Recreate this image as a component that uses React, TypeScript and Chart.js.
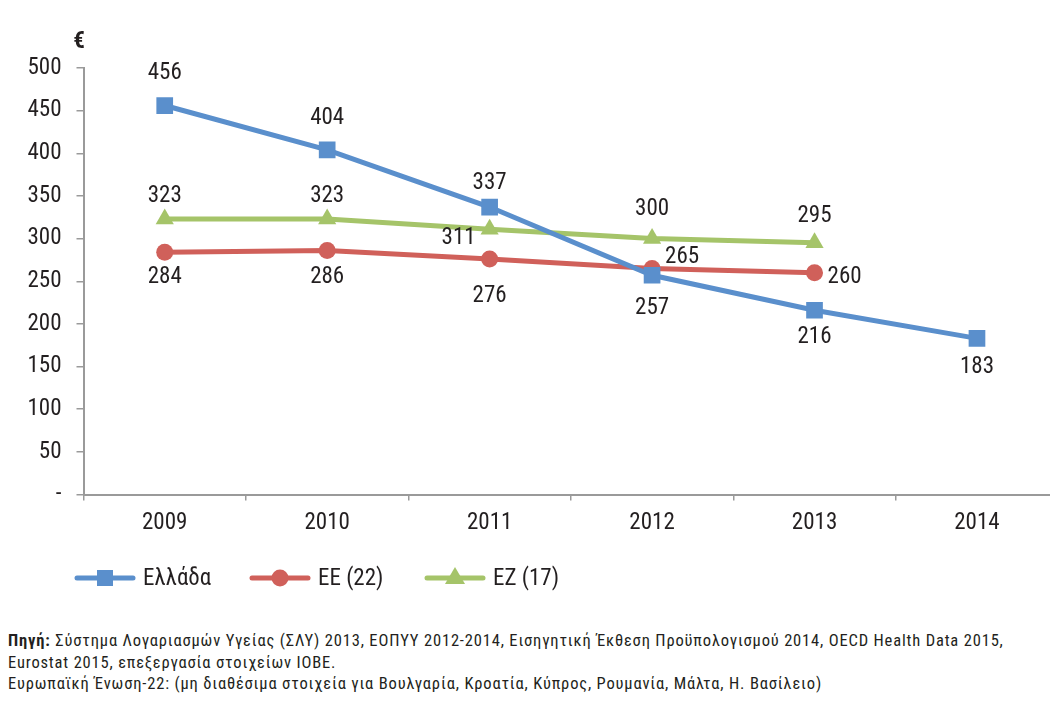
import React, { useEffect, useRef } from "react";
import { Chart, registerables } from "chart.js";

Chart.register(...registerables);

const years = ["2009", "2010", "2011", "2012", "2013", "2014"];
const greece = [456, 404, 337, 257, 216, 183];
const eu22 = [284, 286, 276, 265, 260, null];
const ez17 = [323, 323, 311, 300, 295, null];
const seriesNames = ["Ελλάδα", "ΕΕ (22)", "ΕΖ (17)"];

// label placement per point (style only): [dx, dy, align]
const greeceLbl: [number, number, string][] = [
  [0, -32, "center"], [0, -32, "center"], [0, -24, "center"],
  [0, 33, "center"], [0, 27, "center"], [0, 29, "center"],
];
const euLbl: [number, number, string][] = [
  [0, 25, "center"], [0, 27, "center"], [0, 37, "center"],
  [13, -11, "left"], [13, 5, "left"], [0, 0, "none"],
];
const ezLbl: [number, number, string][] = [
  [0, -23, "center"], [0, -23, "center"], [-14, 9, "right"],
  [0, -29, "center"], [0, -27, "center"], [0, 0, "none"],
];

const COLORS = ["#5A8FCC", "#D0605A", "#A5C469"];
const FONT = "'Liberation Sans Narrow', 'Roboto Condensed', 'DejaVu Sans Condensed', Roboto, sans-serif";
const TEXT = "#231F20";

const labelPlugin = {
  id: "pointLabels",
  afterDatasetsDraw(chart: any) {
    const ctx = chart.ctx;
    const placements = [greeceLbl, euLbl, ezLbl];
    ctx.save();
    ctx.font = `23px ${FONT}`;
    ctx.fillStyle = TEXT;
    ctx.textBaseline = "middle";
    chart.data.datasets.forEach((ds: any, di: number) => {
      const meta = chart.getDatasetMeta(di);
      meta.data.forEach((pt: any, i: number) => {
        const v = ds.data[i];
        if (v === null || v === undefined) return;
        const [dx, dy, align] = placements[di][i];
        if (align === "none") return;
        ctx.textAlign = align;
        ctx.fillText(String(v), pt.x + dx, pt.y + dy);
      });
    });
    ctx.restore();
  },
};

const legendPlugin = {
  id: "customLegend",
  afterDraw(chart: any) {
    const ctx = chart.ctx;
    const y = 578;
    const starts = [77, 252, 427];
    ctx.save();
    chart.data.datasets.forEach((ds: any, di: number) => {
      const x0 = starts[di];
      const x1 = x0 + 56;
      ctx.strokeStyle = ds.borderColor;
      ctx.lineWidth = 5;
      ctx.lineCap = "round";
      ctx.beginPath();
      ctx.moveTo(x0, y);
      ctx.lineTo(x1, y);
      ctx.stroke();
      ctx.fillStyle = ds.borderColor;
      const cx = (x0 + x1) / 2;
      ctx.beginPath();
      if (ds.pointStyle === "rect") {
        ctx.rect(cx - 8, y - 8, 16, 16);
      } else if (ds.pointStyle === "circle") {
        ctx.arc(cx, y, 8.5, 0, Math.PI * 2);
      } else {
        ctx.moveTo(cx, y - 11);
        ctx.lineTo(cx + 10, y + 6);
        ctx.lineTo(cx - 10, y + 6);
        ctx.closePath();
      }
      ctx.fill();
      ctx.fillStyle = TEXT;
      ctx.font = `23px ${FONT}`;
      ctx.textAlign = "left";
      ctx.textBaseline = "middle";
      ctx.fillText(ds.label, x1 + 10, y + 1);
    });
    ctx.font = `bold 23px ${FONT}`;
    ctx.textAlign = "center";
    ctx.fillText("€", 79, 42);
    ctx.restore();
  },
};

export default function App() {
  const ref = useRef<HTMLCanvasElement | null>(null);
  useEffect(() => {
    if (!ref.current) return;
    const mk = (label: string, data: any[], color: string, style: string, r: number) => ({
      label,
      data,
      borderColor: color,
      backgroundColor: color,
      borderWidth: 5,
      pointStyle: style,
      pointRadius: r,
      pointHoverRadius: r,
      pointBorderWidth: 0,
      pointBackgroundColor: color,
      tension: 0,
      spanGaps: false,
    });
    const chart = new Chart(ref.current, {
      type: "line",
      data: {
        labels: years,
        datasets: [
          mk(seriesNames[0], greece, COLORS[0], "rect", 11.8),
          mk(seriesNames[1], eu22, COLORS[1], "circle", 8.5),
          mk(seriesNames[2], ez17, COLORS[2], "triangle", 10.5),
        ],
      },
      options: {
        animation: false,
        responsive: false,
        events: [],
        layout: { padding: { left: 0, right: 5.5, top: 68, bottom: 65.5 } },
        plugins: { legend: { display: false }, tooltip: { enabled: false } },
        scales: {
          x: {
            type: "category",
            offset: true,
            afterFit: (s: any) => {
              s.height = 50;
            },
            grid: {
              offset: true,
              drawOnChartArea: false,
              drawTicks: true,
              tickLength: 6,
              color: "#9A9A9A",
              lineWidth: 1.5,
            },
            border: { color: "#9A9A9A", width: 2 },
            ticks: { color: TEXT, font: { family: FONT, size: 23 }, padding: 9, maxRotation: 0 },
          },
          y: {
            min: 0,
            max: 500,
            afterFit: (s: any) => {
              s.width = 83.5;
            },
            grid: {
              drawOnChartArea: false,
              drawTicks: true,
              tickLength: 7,
              color: "#9A9A9A",
              lineWidth: 1.5,
            },
            border: { color: "#9A9A9A", width: 2 },
            ticks: {
              stepSize: 50,
              color: TEXT,
              font: { family: FONT, size: 23 },
              padding: 15,
              callback: (v: any) => (Number(v) === 0 ? "-" : String(v)),
            },
          },
        },
      },
      plugins: [labelPlugin, legendPlugin],
    } as any);
    return () => chart.destroy();
  }, []);

  return (
    <div
      style={{
        position: "fixed",
        left: 0,
        top: 0,
        width: 1050,
        height: 704,
        overflow: "hidden",
        background: "#fff",
      }}
    >
      <canvas ref={ref} width={1070} height={610} style={{ position: "absolute", left: 0, top: 0, width: 1070, height: 610 }} />
      <div
        style={{
          position: "absolute",
          left: 8,
          top: 630,
          width: 1040,
          fontFamily: FONT,
          fontSize: 16.5,
          letterSpacing: "0.83px",
          lineHeight: "21.5px",
          color: TEXT,
          whiteSpace: "nowrap",
        }}
      >
        <div>
          <b>Πηγή:</b> Σύστημα Λογαριασμών Υγείας (ΣΛΥ) 2013, ΕΟΠΥΥ 2012-2014, Εισηγητική Έκθεση Προϋπολογισμού 2014, OECD Health Data 2015,
        </div>
        <div>Eurostat 2015, επεξεργασία στοιχείων ΙΟΒΕ.</div>
        <div>Ευρωπαϊκή Ένωση-22: (μη διαθέσιμα στοιχεία για Βουλγαρία, Κροατία, Κύπρος, Ρουμανία, Μάλτα, Η. Βασίλειο)</div>
      </div>
    </div>
  );
}
